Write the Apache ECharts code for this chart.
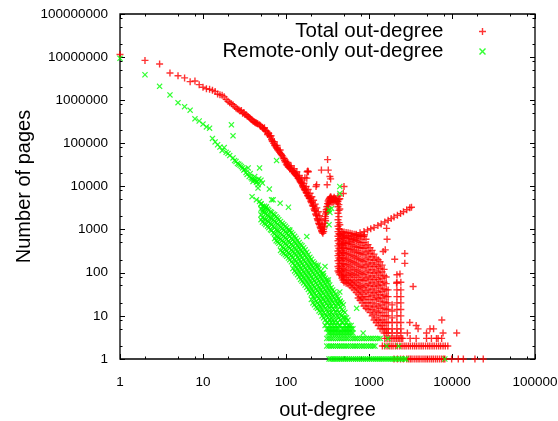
<!DOCTYPE html>
<html>
<head>
<meta charset="utf-8">
<script src="https://cdn.jsdelivr.net/npm/echarts@6/dist/echarts.min.js"></script>
<style>
  html, body { margin: 0; padding: 0; background: #fff; }
  #main { width: 558px; height: 421px; }
</style>
</head>
<body>
<div id="main"></div>
<script>
// --- data: [out-degree, number of pages] ---
var totalHead = [[1,11500000],[2,8400000],[3,6900000],[4,4300000],[5,3700000],[6,3300000],[7,2700000],[8,2800000],[9,2300000],[10,2000000],[11,1850000],[12,1800000],[13,1700000],[14,1600000],[15,1400000],[16,1350000],[17,1300000],[18,1200000],[19,1050000]];

var totalBand = [[20,950000],[21,880000],[22,830000],[23,790000],[24,720000],[25,660000],[26,630000],[27,600000],[29,580000],[31,520000],[33,460000],[35,420000],[37,380000],[39,350000],[41,320000],[43,300000],[45,290000],[48,270000],[50,250000],[53,220000],[56,200000],[59,190000],[62,170000],[65,140000],[68,115000],[71,100000],[74,88000],[77,78000],[80,70000],[84,62000],[88,55000],[92,48000],[96,40000],[101,33000],[106,29000],[112,26000],[118,24000],[124,22000],[130,20000],[137,17000],[144,14500],[151,12500],[158,10500],[166,8800],[174,7500],[182,6300],[190,5500],[199,4600],[208,3700],[218,3000],[228,2300],[238,1800],[248,1400],[258,1150],[268,950],[278,820],
  [28,560000],[30,500000],[32,470000],[34,430000],[36,400000],[38,360000],[40,330000],[42,310000],[44,295000],[46,280000],[49,255000],[52,235000],[54,215000],[57,195000],[61,175000],[63,150000],[67,125000],[69,110000],[73,92000],[76,82000],[79,74000],[82,66000],[86,58000],[94,44000],[98,37000],[103,31000],[108,28000],[113,26000],[121,23000],[128,21000],[134,18000],[141,16000],[147,14000],[153,12000],[160,10000],[168,8500],[176,7200],[184,6100],[192,5300],[201,4400],[211,3500],[221,2800],[231,2200],[241,1700],[251,1350],[261,1100],[271,900],
  [55,230000],[60,160000],[66,150000],[72,110000],[78,90000],[85,70000],[90,52000],[95,45000],[100,38000],[105,33000],[110,30000],[115,27000],[120,22000],[126,20000],[132,18500],[140,15500],[148,13000],[155,11500],[162,9500],[170,8200],[178,7000],[186,6000],[195,5200],[204,4200],[214,3500],[224,2700],[234,2100],[244,1600],[254,1300],[264,1050],[274,880],
  [105,36000],[115,30000],[125,26000],[135,22000],[145,18000],[155,15000],[165,12000],[175,10000],[185,8500],[195,7000],[205,5800],[215,4800],[225,3900],[235,3200],[245,2600],[255,2100],[265,1700],[275,1300],[282,1000]];

var totalV = [[285,900],[288,1100],[292,1400],[296,1800],[300,2300],[305,2900],[310,3400],[316,4000],[322,4600],[328,5000],[334,5300],[340,5600],[346,5800],[352,5400],[358,5200],[365,5000],[372,5300],[380,5600],[388,5300],[396,5000],[404,4800],[412,4500],[418,4000],[300,1600],[310,2500],[320,3500],[330,4200],[345,4700],[360,4300],[375,4400],[290,1200],[298,2000],[304,2600],[314,3000],[326,3900],[338,4500]];

var totalArm = [[450,750],[500,720],[560,700],[620,720],[700,780],[780,850],[870,900],[960,980],[1050,1050],[1150,1120],[1280,1250],[1400,1350],[1550,1500],[1700,1650],[1850,1800],[2000,1950],[2200,2150],[2400,2350],[2600,2600],[2850,2900],[3100,3200],[3250,3300],
  [470,450],[520,480],[580,520],[650,580],[720,640],[800,700],[880,760]];

var totalMassCols = [
  [423,[6000,4500,3400,2400,1700,1200,900,700,550,420,320,250,190,140,110]],
  [434,[5000,3800,2800,2000,1450,1050,800,620,480,370,280,220,165,125,100]],
  [445,[5200,3000,1300,1000,780,600,450,340,260,200,150,110,90]],
  [470,[900,700,540,420,320,250,190,140,110,85,75]],
  [485,[800,620,480,370,290,220,165,125,98,80,68]],
  [500,[880,660,500,380,290,220,160,120,90,70,60]],
  [530,[860,650,490,370,280,210,155,115,88,68,57]],
  [560,[850,640,480,360,270,200,150,110,85,65,55]],
  [592,[820,620,460,350,260,190,140,100,78,60,50]],
  [625,[800,600,450,340,250,180,130,95,70,55,45]],
  [662,[780,580,420,320,235,170,120,90,65,50,40]],
  [700,[750,560,400,300,220,160,115,85,60,45,35]],
  [740,[720,530,390,290,210,150,108,78,55,42,32,26]],
  [780,[700,500,380,280,200,140,100,70,50,38,28,23]],
  [825,[700,500,375,270,190,135,95,68,48,35,26,20]],
  [870,[700,500,370,260,180,130,90,65,45,32,24,17]],
  [920,[600,420,300,210,150,105,75,52,38,28,20,15]],
  [975,[450,320,230,160,115,80,56,40,28,20,14]],
  [1030,[380,280,200,140,100,70,50,35,24,17,12]],
  [1090,[330,240,170,120,85,60,42,30,20,14,10]],
  [1150,[270,195,140,98,70,48,34,24,16,11,8]],
  [1220,[220,155,110,78,55,38,27,19,13,9,7]],
  [1290,[200,140,100,70,50,35,25,17,12,8,6]],
  [1360,[180,125,88,62,44,31,22,15,10,7,5]],
  [1440,[150,105,74,52,37,26,18,12,8,6,5]],
  [1520,[120,85,60,42,30,21,15,10,7,5,4]],
  [1610,[80,56,40,28,20,14,10,7,5,4]],
  [1700,[40,28,20,14,10,7,5,4]],
  [1900,[18,13,9,7,5,4]],
  [2170,[90,60,40,28,20,14,10,7,5,4]],
  [2420,[60,40,28,20,14,10,7,5,4]]
];

var totalScatter = [[317,42000],[323,24000],[338,17000],[267,24000],[180,22000],[230,10000],[345,15000],[500,10000],[490,6900],[313,11000],[186,22000],[178,15600],[234,11000],[183,23000],[169,16000],
  [1630,1070],[1650,600],[1570,340],[1480,310],[2700,280],[2040,205],[2700,165],[2360,94],[3400,48],[2150,57],[7540,8],[3100,7],[3900,5],[5430,5],[11400,4],[6800,3],[2900,4],[4930,4],[7800,4],[3700,6],[6000,5]];

var totalThrees = [1550,1650,1750,1850,1950,2050,2150,2250,2350,2450,2550,3130,3700,4930,5650,6500,7500];
var totalTwos = [1450,1550,1650,1750,1850,1950,2080,2200,2350,2500,2650,2800,2980,3150,3350,3550,3750,4000,4250,4500,4800,5100,5400,5750,6100,6500,6900,7300,7800,8300,8900];
var totalOnes = [2000,2200,2400,2600,2850,3000,3150,3300,3500,3700,3900,4100,4350,4600,4850,5100,5400,5700,6000,6350,6700,7100,7500,7900,8200,9900,11900,13700,18900,23800];

var remoteHead = [[1,9400000],[2,3900000],[3,2100000],[4,1330000],[5,880000],[6,710000],[7,590000],[8,370000],[9,330000],[10,280000],[11,240000],[12,225000],[13,130000],[14,108000],[15,93000],[16,82000],[17,68000],[18,80000],[19,62000],[20,58000],[22,270000],[23,150000]];

var remoteBand = [[21,52000],[23,46000],[24,40000],[25,38000],[26,34000],[27,33000],[28,31000],[29,29000],[30,27000],[31,24000],[32,25000],[33,21000],[34,19000],[35,27000],[36,17000],[37,20000],[38,16000],[39,15000],[40,13000],[41,14500],[42,17000],[43,14000],[44,12500],[45,13000],[46,11000],[47,15000],[48,27000],[50,14000],[52,12000],
  [39,5800],[46,9200],[63,8700],[44,4900],[48,4500],[58,3400],[67,4900],[70,4900],[85,4100],[107,3300],[77,40000],[56,3000],[53,2900],[50,3900]];

var remoteMassCols = [
  [50,[4000,3000,2200,1700]],
  [52,[3500,2600,1900,1500]],
  [55,[3500,2500,1800,1400]],
  [57,[3200,2300,1700,1300]],
  [60,[3000,2200,1600,1200]],
  [62,[2800,2000,1500,1100]],
  [65,[2600,1900,1400,1000]],
  [67,[2500,1800,1300,950]],
  [70,[2300,1700,1200,850]],
  [73,[2200,1550,1100,800,620]],
  [76,[2000,1450,1000,720,550]],
  [79,[1850,1350,950,680,520]],
  [82,[1700,1250,900,650,480]],
  [86,[1550,1150,820,600,440,330]],
  [90,[1400,1050,750,550,400,300]],
  [94,[1300,980,700,510,370,280]],
  [98,[1200,900,650,480,350,260]],
  [102,[1100,820,600,440,320,240]],
  [107,[1000,750,540,400,290,220]],
  [111,[920,690,500,370,270,200]],
  [116,[850,630,460,340,250,180]],
  [121,[780,580,420,310,225,165,125]],
  [127,[700,520,380,280,200,150,110]],
  [132,[630,470,345,255,185,135,100]],
  [138,[560,420,310,230,165,120,90]],
  [144,[500,380,280,205,148,108,80]],
  [150,[450,340,250,180,130,95,70]],
  [156,[420,310,225,162,118,86,64]],
  [163,[380,280,200,145,105,78,58]],
  [170,[340,250,180,130,95,70,52]],
  [178,[300,220,160,115,85,62,46]],
  [186,[265,195,142,102,75,55,41]],
  [194,[230,170,125,90,66,48,36]],
  [202,[205,152,112,81,59,43,32,24]],
  [211,[180,135,100,72,52,38,28,20]],
  [220,[165,122,90,65,47,34,25,18]],
  [230,[150,110,80,58,42,30,22,16]],
  [240,[135,99,72,52,38,28,20,15]],
  [250,[120,88,64,46,34,25,18,13]],
  [261,[108,79,57,41,30,22,16,12]],
  [272,[95,70,50,36,26,19,14,10]],
  [284,[85,62,45,33,24,17,12,9]],
  [296,[75,55,40,29,21,15,11,8,6]],
  [309,[68,49,36,26,19,14,10,7,5]],
  [322,[60,43,31,23,17,12,9,7,5,4]],
  [336,[52,38,27,20,15,11,8,6,5,4]],
  [350,[45,33,24,17,12,9,7,5,4]],
  [365,[40,29,21,15,11,8,6,5,4]],
  [380,[36,26,19,14,10,7,5,4]],
  [397,[32,23,17,12,8,6,5,4]],
  [415,[28,20,14,10,7,5,4]],
  [432,[25,18,12,9,6,5,4]],
  [450,[22,16,11,8,6,4]],
  [470,[20,14,10,7,5,4]],
  [490,[18,13,9,7,5,4]],
  [512,[12,9,6,5,4]],
  [535,[9,7,5,4]],
  [557,[8,6,5,4]],
  [580,[6,5,4]],
  [610,[6,5,4]],
  [640,[5,4]]
];

var remoteScatter = [[111,980],[178,690],[445,10000],[445,6900],[355,3100],[338,2500],[330,1300],[330,2900],[244,150],[295,140],[282,98],[324,68],[445,36],[445,21],[710,15],[850,4]];

var remoteThrees = [310,330,350,370,395,420,445,470,500,530,560,600,640,680,720,770,820,870,930,990,1050,1120,1200,1280,1360,1690];
var remoteTwos = [310,330,350,370,395,420,445,470,500,530,560,600,640,680,720,770,820,870,930,990,1050,1120,1180,1630,2270];
var remoteOnes = [330,345,360,380,400,420,445,470,495,520,550,580,615,650,690,730,770,815,860,910,960,1020,1080,1140,1210,1280,1350,1430,1510,1600,1700,1800,1900,2000,2120,2250,2380,2520,2670,2790,8200];

var xMinorTicks = [2,5,8,20,50,80,200,500,800,2000,5000,8000,20000,50000,80000];
var yMinorTicks = [2,5,8,20,50,80,200,500,800,2000,5000,8000,20000,50000,80000,200000,500000,800000,2000000,5000000,8000000,20000000,50000000,80000000];

// --- build series data ---
function fromCols(cols) {
  var out = [];
  cols.forEach(function (c) {
    c[1].forEach(function (v) { out.push([c[0], v]); });
  });
  return out;
}
function fromRow(xs, y) {
  return xs.map(function (x) { return [x, y]; });
}

var totalData = [].concat(totalHead, totalBand, totalV, totalArm, fromCols(totalMassCols), totalScatter,
  fromRow(totalThrees, 3), fromRow(totalTwos, 2), fromRow(totalOnes, 1));
var remoteData = [].concat(remoteHead, remoteBand, fromCols(remoteMassCols), remoteScatter,
  fromRow(remoteThrees, 3), fromRow(remoteTwos, 2), fromRow(remoteOnes, 1));

var FONT = '"Liberation Sans", Arial, Helvetica, sans-serif';
var PLUS = 'path://M2.8,0H4.2V2.8H7V4.2H4.2V7H2.8V4.2H0V2.8H2.8Z';
var CROSS = 'path://M1,0L3.5,2.5L6,0L7,1L4.5,3.5L7,6L6,7L3.5,4.5L1,7L0,6L2.5,3.5L0,1Z';

var myChart = echarts.init(document.getElementById('main'), null, { renderer: 'canvas' });

function majorAxis(pos, min, max, withLabels) {
  return {
    type: 'log', logBase: 10, min: min, max: max, position: pos,
    splitNumber: pos === 'left' || pos === 'right' ? 8 : 5,
    axisLine: { show: false },
    axisTick: { show: true, inside: true, length: 5, lineStyle: { color: '#000', width: 1 } },
    axisLabel: {
      show: withLabels, color: '#000', fontSize: 13.5, fontFamily: FONT,
      formatter: function (v) { return String(Math.round(v)); }
    },
    splitLine: { show: false }
  };
}
function minorAxis(pos, min, max, ticks) {
  return {
    type: 'log', logBase: 10, min: min, max: max, position: pos,
    axisLine: { show: false },
    axisTick: { show: true, inside: true, length: 2.5, customValues: ticks, lineStyle: { color: '#000', width: 1 } },
    axisLabel: { show: false },
    splitLine: { show: false }
  };
}

var xMain = majorAxis('bottom', 1, 100000, true);
xMain.axisLabel.margin = 16;
xMain.name = 'out-degree';
xMain.nameLocation = 'middle';
xMain.nameGap = 41;
xMain.nameMoveOverlap = false;
xMain.nameTextStyle = { fontSize: 20, color: '#000', fontFamily: FONT };

var yMain = majorAxis('left', 1, 100000000, true);
yMain.axisLabel.margin = 12;
yMain.name = 'Number of pages';
yMain.nameLocation = 'middle';
yMain.nameGap = 86;
yMain.nameMoveOverlap = false;
yMain.nameTextStyle = { fontSize: 20, color: '#000', fontFamily: FONT };

var option = {
  animation: false,
  backgroundColor: '#fff',
  grid: {
    left: 120, right: 23, top: 14, bottom: 62,
    outerBoundsMode: 'none',
    show: true, borderColor: '#000', borderWidth: 1.3, backgroundColor: 'transparent'
  },
  legend: [
    {
      data: [{ name: 'Total out-degree', icon: PLUS }],
      right: 72, top: 21, orient: 'vertical', align: 'right', padding: 0,
      itemWidth: 68, itemHeight: 7, selectedMode: false,
      textStyle: { fontSize: 20.5, color: '#000', fontFamily: FONT }
    },
    {
      data: [{ name: 'Remote-only out-degree', icon: CROSS }],
      right: 72, top: 41, orient: 'vertical', align: 'right', padding: 0,
      itemWidth: 68, itemHeight: 7, selectedMode: false,
      textStyle: { fontSize: 20.5, color: '#000', fontFamily: FONT }
    }
  ],
  xAxis: [
    xMain,
    majorAxis('top', 1, 100000, false),
    minorAxis('bottom', 1, 100000, xMinorTicks),
    minorAxis('top', 1, 100000, xMinorTicks)
  ],
  yAxis: [
    yMain,
    majorAxis('right', 1, 100000000, false),
    minorAxis('left', 1, 100000000, yMinorTicks),
    minorAxis('right', 1, 100000000, yMinorTicks)
  ],
  series: [
    {
      name: 'Total out-degree',
      type: 'scatter',
      symbol: PLUS,
      symbolSize: 7,
      itemStyle: { color: '#ff0000' },
      data: totalData
    },
    {
      name: 'Remote-only out-degree',
      type: 'scatter',
      symbol: CROSS,
      symbolSize: 6,
      itemStyle: { color: '#00ff00' },
      data: remoteData
    }
  ]
};

myChart.setOption(option);
</script>
</body>
</html>
